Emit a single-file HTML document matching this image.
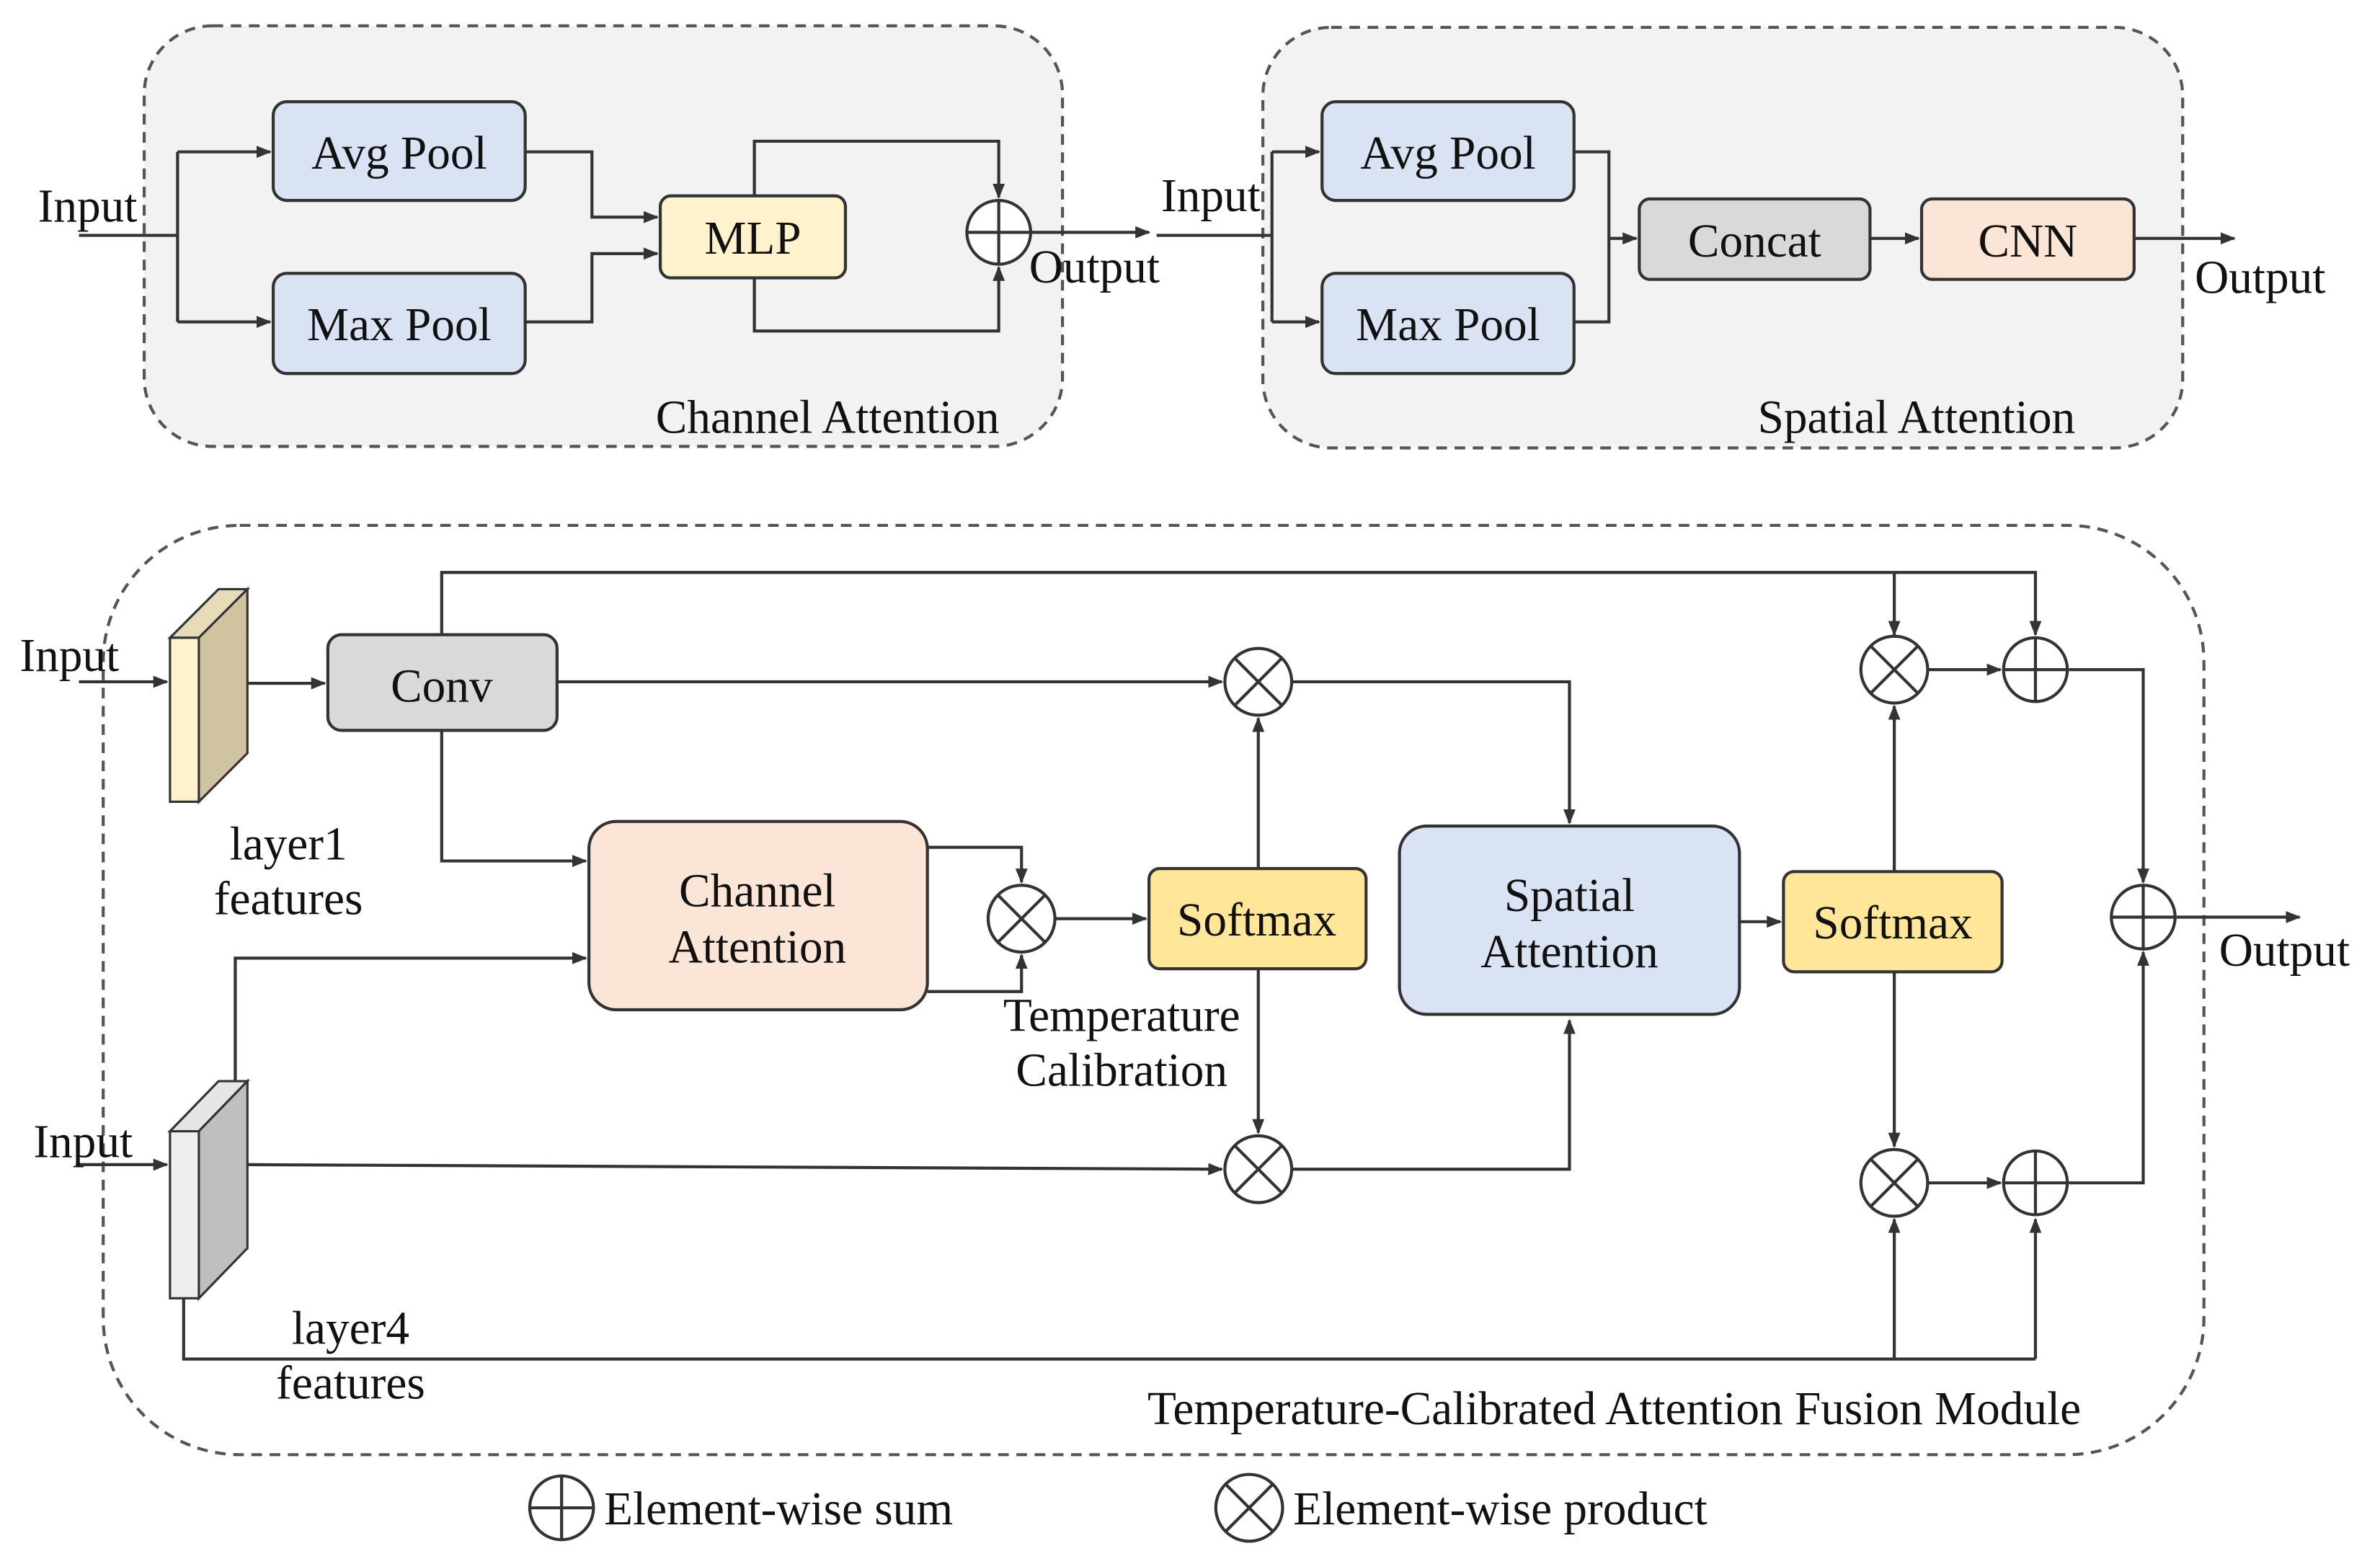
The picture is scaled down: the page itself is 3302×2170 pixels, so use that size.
<!DOCTYPE html>
<html><head><meta charset="utf-8"><style>
html,body{margin:0;padding:0;background:#fff}
svg{display:block}
text{font-family:"Liberation Serif",serif;font-size:31px;fill:#111}
</style></head><body>
<svg width="3302" height="2170" viewBox="0 0 1568 1030" preserveAspectRatio="none" xmlns="http://www.w3.org/2000/svg">
<defs>
<marker id="a" markerWidth="10" markerHeight="10" refX="9" refY="5" orient="auto" markerUnits="userSpaceOnUse">
<path d="M0,1 L10,5 L0,9 z" fill="#333"/></marker>
<g id="plus"><circle r="21" fill="#fff" stroke="#333" stroke-width="2"/><path d="M-21,0H21M0,-21V21" stroke="#333" stroke-width="2"/></g>
<g id="cross"><circle r="22" fill="#fff" stroke="#333" stroke-width="2"/><path d="M-15.5,-15.5L15.5,15.5M15.5,-15.5L-15.5,15.5" stroke="#333" stroke-width="2"/></g>
</defs>
<g fill="none" stroke="#333" stroke-width="2">
<rect x="95" y="17" width="605" height="277" rx="45" fill="#f2f2f2" stroke="#555" stroke-dasharray="7,5"/>
<rect x="832" y="18" width="606" height="277" rx="45" fill="#f2f2f2" stroke="#555" stroke-dasharray="7,5"/>
<rect x="68" y="346" width="1384" height="612" rx="90" fill="#fff" stroke="#555" stroke-dasharray="7,5"/>
<path d="M52,155H117M117,100V212"/>
<path d="M117,100H178" marker-end="url(#a)"/><path d="M117,212H178" marker-end="url(#a)"/>
<path d="M346,100H390V143H433" marker-end="url(#a)"/>
<path d="M346,212H390V167H433" marker-end="url(#a)"/>
<path d="M497,129V93H658V130" marker-end="url(#a)"/>
<path d="M497,183V218H658V176" marker-end="url(#a)"/>
<path d="M679,153H757" marker-end="url(#a)"/>
<path d="M762,155H838M838,100V212"/>
<path d="M838,100H869" marker-end="url(#a)"/><path d="M838,212H869" marker-end="url(#a)"/>
<path d="M1037,100H1060V212H1037M1060,157H1078" marker-end="url(#a)"/>
<path d="M1232,157H1264" marker-end="url(#a)"/>
<path d="M1406,157H1472" marker-end="url(#a)"/>
<path d="M52,449H110" marker-end="url(#a)"/>
<path d="M50,767H110" marker-end="url(#a)"/>
<path d="M163,450H214" marker-end="url(#a)"/>
<path d="M291,418V377H1341V418" marker-end="url(#a)"/>
<path d="M1248,377V418" marker-end="url(#a)"/>
<path d="M367,449H805" marker-end="url(#a)"/>
<path d="M291,481V567H386" marker-end="url(#a)"/>
<path d="M155,712V631H386" marker-end="url(#a)"/>
<path d="M611,558H673V581" marker-end="url(#a)"/>
<path d="M611,653H673V629" marker-end="url(#a)"/>
<path d="M695,605H755" marker-end="url(#a)"/>
<path d="M829,572V473" marker-end="url(#a)"/>
<path d="M829,638V746" marker-end="url(#a)"/>
<path d="M163,767L805,770" marker-end="url(#a)"/>
<path d="M851,770H1034V672" marker-end="url(#a)"/>
<path d="M851,449H1034V542" marker-end="url(#a)"/>
<path d="M1146,607H1173" marker-end="url(#a)"/>
<path d="M1248,574V465" marker-end="url(#a)"/>
<path d="M1248,640V755" marker-end="url(#a)"/>
<path d="M1270,441H1318" marker-end="url(#a)"/>
<path d="M1270,779H1318" marker-end="url(#a)"/>
<path d="M1363,441H1412V581" marker-end="url(#a)"/>
<path d="M1363,779H1412V627" marker-end="url(#a)"/>
<path d="M1434,604H1515" marker-end="url(#a)"/>
<path d="M121,855V895H1341"/>
<path d="M1248,895V803" marker-end="url(#a)"/>
<path d="M1341,895V803" marker-end="url(#a)"/>
<path d="M112,420L144,388H163L131,420Z" fill="#e8dcb8" stroke-width="1.5"/>
<path d="M131,420L163,388V496L131,528Z" fill="#cfc3a0" stroke-width="1.5"/>
<rect x="112" y="420" width="19" height="108" fill="#fff2cc" stroke-width="1.5"/>
<path d="M112,745L144,712H163L131,745Z" fill="#e6e6e6" stroke-width="1.5"/>
<path d="M131,745L163,712V822L131,855Z" fill="#bfbfbf" stroke-width="1.5"/>
<rect x="112" y="745" width="19" height="110" fill="#eeeeee" stroke-width="1.5"/>
<rect x="180" y="67" width="166" height="65" rx="9" fill="#dae3f3"/>
<rect x="180" y="180" width="166" height="66" rx="9" fill="#dae3f3"/>
<rect x="435" y="129" width="122" height="54" rx="7" fill="#fff2cc"/>
<rect x="871" y="67" width="166" height="65" rx="9" fill="#dae3f3"/>
<rect x="871" y="180" width="166" height="66" rx="9" fill="#dae3f3"/>
<rect x="1080" y="131" width="152" height="53" rx="7" fill="#d9d9d9"/>
<rect x="1266" y="131" width="140" height="53" rx="7" fill="#fbe5d6"/>
<rect x="216" y="418" width="151" height="63" rx="9" fill="#d9d9d9"/>
<rect x="388" y="541" width="223" height="124" rx="18" fill="#fbe5d6"/>
<rect x="757" y="572" width="143" height="66" rx="7" fill="#ffe699"/>
<rect x="922" y="544" width="224" height="124" rx="18" fill="#dae3f3"/>
<rect x="1175" y="574" width="144" height="66" rx="7" fill="#ffe699"/>
</g>
<use href="#plus" x="658" y="153"/>
<use href="#cross" x="829" y="449"/>
<use href="#cross" x="673" y="605"/>
<use href="#cross" x="829" y="770"/>
<use href="#cross" x="1248" y="441"/>
<use href="#cross" x="1248" y="779"/>
<use href="#plus" x="1341" y="441"/>
<use href="#plus" x="1341" y="779"/>
<use href="#plus" x="1412" y="604"/>
<use href="#plus" x="370" y="993"/>
<use href="#cross" x="823" y="993"/>
<g text-anchor="middle">
<text x="263" y="111">Avg Pool</text>
<text x="263" y="224">Max Pool</text>
<text x="496" y="167">MLP</text>
<text x="954" y="111">Avg Pool</text>
<text x="954" y="224">Max Pool</text>
<text x="1156" y="169">Concat</text>
<text x="1336" y="169">CNN</text>
<text x="291" y="462">Conv</text>
<text x="499" y="597">Channel</text>
<text x="499" y="634">Attention</text>
<text x="828" y="616">Softmax</text>
<text x="1034" y="600">Spatial</text>
<text x="1034" y="637">Attention</text>
<text x="1247" y="618">Softmax</text>
<text x="190" y="566">layer1</text>
<text x="190" y="602">features</text>
<text x="739" y="679">Temperature</text>
<text x="739" y="715">Calibration</text>
<text x="231" y="885">layer4</text>
<text x="231" y="921">features</text>
</g>
<text x="25" y="146">Input</text>
<text x="678" y="186">Output</text>
<text x="432" y="285">Channel Attention</text>
<text x="765" y="139">Input</text>
<text x="1446" y="193">Output</text>
<text x="1158" y="285">Spatial Attention</text>
<text x="13" y="442">Input</text>
<text x="22" y="762">Input</text>
<text x="1462" y="636">Output</text>
<text x="756" y="938">Temperature-Calibrated Attention Fusion Module</text>
<text x="398" y="1004">Element-wise sum</text>
<text x="852" y="1004">Element-wise product</text>
</svg>
</body></html>
